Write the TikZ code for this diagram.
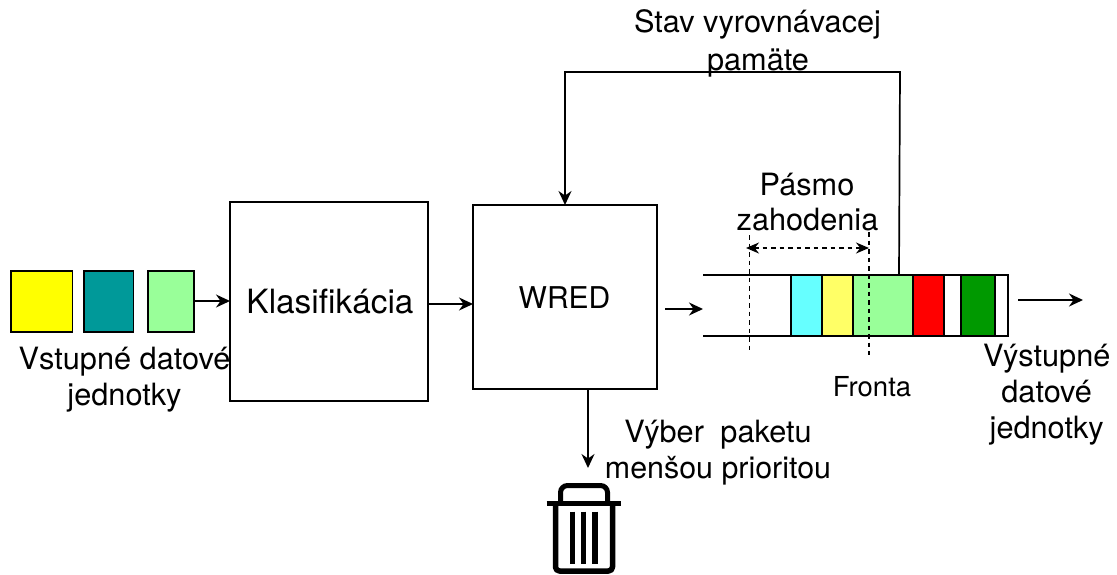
\documentclass[tikz,border=0pt]{standalone}
\usepackage{fontspec}
\setmainfont{TeX Gyre Heros}
\usetikzlibrary{arrows.meta}
\definecolor{cyellow}{HTML}{FFFF00}
\definecolor{cred}{HTML}{FF0000}
\definecolor{cteal}{HTML}{009999}
\definecolor{clgreen}{HTML}{99FF99}
\definecolor{ccyan}{HTML}{66FFFF}
\definecolor{cyell}{HTML}{FFFF66}
\definecolor{cdgreen}{HTML}{009900}
\newcommand{\fs}[1]{\fontsize{#1}{#1}\selectfont}
\tikzset{
  x=1pt,y=-1pt,
  line/.style={draw=black,line width=1.7pt},
  arr/.style={line,-{Stealth[length=14pt,width=13pt]}},
  dasharr/.style={draw=black,line width=1.6pt,dash pattern=on 4.5pt off 4pt,{Stealth[length=13pt,width=11pt]}-{Stealth[length=13pt,width=11pt]}},
  dashln/.style={draw=black,line width=1.5pt,dash pattern=on 4.5pt off 4pt},
  boxn/.style={line,fill=white,inner sep=0pt,outer sep=0pt,anchor=north west},
  lab/.style={inner sep=0pt,outer sep=0pt,align=center,text=black,anchor=base},
}
\begin{document}
\begin{tikzpicture}
\useasboundingbox (0,0) rectangle (1117,574);
% input squares
\node[boxn,fill=cyellow,minimum width=61.5pt,minimum height=61pt] (sqa) at (11,270.7) {};
\node[boxn,fill=cteal,minimum width=49.5pt,minimum height=61pt] (sqb) at (84,270.7) {};
\node[boxn,fill=clgreen,minimum width=46pt,minimum height=61pt] (sqc) at (148,270.7) {};
% main boxes
\node[boxn,minimum width=198pt,minimum height=199pt] (klas) at (230,202) {};
\node[lab,font=\fs{33.4}] (klast) at (330,313) {Klasifikácia};
\node[boxn,minimum width=184pt,minimum height=184pt] (wred) at (473,205) {};
\node[lab,font=\fs{30}] (wredt) at (564.5,308) {WRED};
% queue
\coordinate (qtl) at (703,275.3);
\coordinate (qbl) at (703,336);
\node[boxn,minimum width=217pt,minimum height=60.7pt] (cellq) at (791.3,275.3) {};
\node[boxn,fill=ccyan,minimum width=30.4pt,minimum height=60.7pt] (cella) at (791.3,275.3) {};
\node[boxn,fill=cyell,minimum width=31pt,minimum height=60.7pt] (cellb) at (821.7,275.3) {};
\node[boxn,fill=clgreen,minimum width=60.3pt,minimum height=60.7pt] (cellc) at (852.7,275.3) {};
\node[boxn,fill=cred,minimum width=31pt,minimum height=60.7pt] (celld) at (913,275.3) {};
\node[boxn,fill=cdgreen,minimum width=34.6pt,minimum height=60.7pt] (celle) at (960.7,275.3) {};
\draw[line] (qtl) -- (cellq.north west);
\draw[line] (qbl) -- (cellq.south west);
% dashed
\coordinate (da) at (749.3,235); \coordinate (db) at (749.3,351);
\coordinate (dc) at (869,232); \coordinate (dd) at (869,355);
\coordinate (ea) at (746,248); \coordinate (eb) at (869,248);
\draw[dashln] (da) -- (db);
\draw[dashln] (dc) -- (dd);
\draw[dasharr] (ea) -- (eb);
% arrows
\draw[arr] (sqc.east |- 0,301) -- (klas.west |- 0,301);
\draw[arr] (klas.east |- 0,304) -- (wred.west |- 0,304);
\coordinate (ia) at (665,309); \coordinate (ib) at (703,309);
\draw[arr] (ia) -- (ib);
\coordinate (oa) at (1018,300); \coordinate (ob) at (1083,300);
\draw[arr] (oa) -- (ob);
\coordinate (fb) at (899,275.3); \coordinate (fc) at (900,72); \coordinate (fd) at (565,72);
\draw[arr] (fb) -- (fc) -- (fd) -- (wred.north -| fd);
\coordinate (tr) at (588,468);
\draw[arr] (wred.south -| tr) -- (tr);
% trash icon
\draw[line width=5.5pt,line join=round,rounded corners=4pt] (555.5,504) -- (555.5,571) -- (612.5,571) -- (612.5,504);
\draw[line width=5pt] (546.5,503) -- (620.7,503);
\draw[line width=5pt,rounded corners=7pt] (560.5,503) -- (560.5,485.5) -- (607.5,485.5) -- (607.5,503);
\draw[line width=5.8pt] (572.5,511.5) -- (572.5,564);
\draw[line width=5.8pt] (583.5,511.5) -- (583.5,564);
\draw[line width=5.8pt] (595,511.5) -- (595,564);
% labels
\node[lab,font=\fs{30.7}] (t1) at (757.5,32.7) {Stav vyrovnávacej};
\node[lab,font=\fs{30.7}] (t2) at (758,70) {pamäte};
\node[lab,font=\fs{30.7}] (t3) at (807,195.5) {Pásmo};
\node[lab,font=\fs{30.7}] (t4) at (807.5,230) {zahodenia};
\node[lab,font=\fs{30.7}] (t5) at (124.5,369) {Vstupné datové};
\node[lab,font=\fs{30.7}] (t6) at (124.5,405.5) {jednotky};
\node[lab,font=\fs{30.7}] (t7) at (718,442.7) {Výber\hspace{8pt} paketu};
\node[lab,font=\fs{30.4}] (t8) at (718,478) {menšou prioritou};
\node[lab,font=\fs{27.5}] (t9) at (872,396) {Fronta};
\node[lab,font=\fs{30.7}] (t10) at (1046.7,366) {Výstupné};
\node[lab,font=\fs{30.7}] (t11) at (1046.7,402.7) {datové};
\node[lab,font=\fs{30.7}] (t12) at (1046.7,438) {jednotky};
\end{tikzpicture}
\end{document}
